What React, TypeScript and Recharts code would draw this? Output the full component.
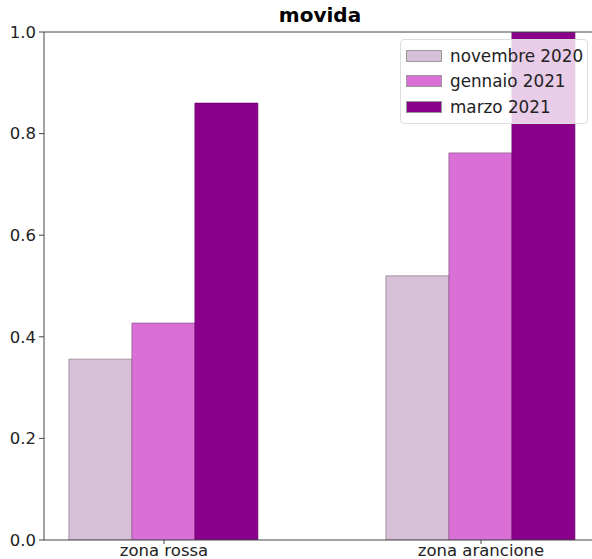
import React from "react";
import { BarChart, Bar, XAxis, YAxis, ReferenceLine } from "recharts";

const categories = ["zona rossa", "zona arancione"];
const novembre2020 = [0.356, 0.52];
const gennaio2021 = [0.427, 0.762];
const marzo2021 = [0.86, 1.0];
const seriesNames = ["novembre 2020", "gennaio 2021", "marzo 2021"];
const seriesColors = ["#D8BFD8", "#DA70D6", "#8B008B"];
const yTicks = [0, 0.2, 0.4, 0.6, 0.8, 1.0];

const data = categories.map((c, i) => ({
  name: c,
  nov: novembre2020[i],
  gen: gennaio2021[i],
  mar: marzo2021[i],
}));

const FONT = "'DejaVu Sans', sans-serif";

const LegendBox = () => (
  <div
    style={{
      position: "absolute",
      left: 400,
      top: 39,
      background: "rgba(255,255,255,0.8)",
      border: "1px solid #ddd",
      borderRadius: 4,
      padding: "3px 4px 3px 5px",
      fontFamily: FONT,
      fontSize: 16.8,
      color: "#222",
      whiteSpace: "nowrap",
    }}
  >
    {seriesNames.map((n, i) => (
      <div key={n} style={{ display: "flex", alignItems: "center", height: 25.5 }}>
        <div
          style={{
            width: 36,
            height: 12,
            background: seriesColors[i],
            border: "0.5px solid #999",
            marginRight: 8,
            boxSizing: "border-box",
          }}
        />
        <span>{n}</span>
      </div>
    ))}
  </div>
);

export default function App() {
  return (
    <div style={{ position: "absolute", left: 0, top: 0, width: 592, height: 559, overflow: "hidden", background: "#fff" }}>
      <BarChart
        width={610}
        height={559}
        data={data}
        margin={{ top: 32, right: 9, bottom: 0, left: 0 }}
        barCategoryGap="20%"
        barGap={0}
      >
        <XAxis
          dataKey="name"
          padding={{ left: -38.5, right: -38.5 }}
          height={19}
          tickSize={4}
          tickMargin={0}
          tick={{ fontFamily: FONT, fontSize: 16.5, fill: "#222" }}
          stroke="#444"
          axisLine={{ stroke: "#444" }}
          interval={0}
        />
        <YAxis
          width={44}
          domain={[0, 1]}
          ticks={yTicks}
          allowDataOverflow
          tickFormatter={(v: number) => v.toFixed(1)}
          tickSize={5}
          tickMargin={3}
          tick={{ fontFamily: FONT, fontSize: 16.5, fill: "#222" }}
          stroke="#444"
        />
        <ReferenceLine y={1} stroke="#444" strokeWidth={1} />
        <Bar dataKey="nov" name={seriesNames[0]} fill={seriesColors[0]} stroke="#8a7a8a" strokeWidth={0.7} isAnimationActive={false} />
        <Bar dataKey="gen" name={seriesNames[1]} fill={seriesColors[1]} stroke="#8a5a8a" strokeWidth={0.7} isAnimationActive={false} />
        <Bar dataKey="mar" name={seriesNames[2]} fill={seriesColors[2]} stroke="#6a006a" strokeWidth={0.7} isAnimationActive={false} />
      </BarChart>
      <div
        style={{
          position: "absolute",
          left: 220,
          width: 200,
          top: 3,
          textAlign: "center",
          fontFamily: FONT,
          fontWeight: "bold",
          fontSize: 20,
          color: "#000",
          lineHeight: "24px",
        }}
      >
        movida
      </div>
      <LegendBox />
    </div>
  );
}
